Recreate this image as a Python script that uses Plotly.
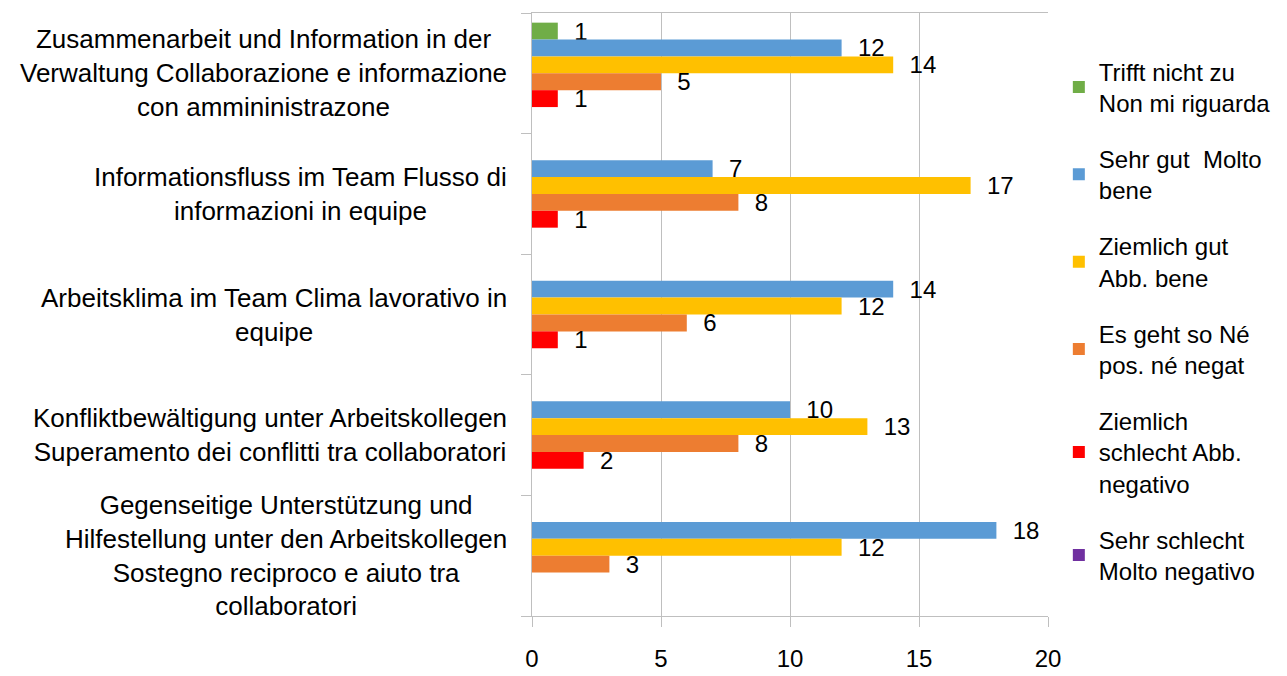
import plotly.graph_objects as go

categories = [
    "Zusammenarbeit und Information in der<br>Verwaltung Collaborazione e informazione<br>con ammininistrazone",
    "Informationsfluss im Team Flusso di<br>informazioni in equipe",
    "Arbeitsklima im Team Clima lavorativo in<br>equipe",
    "Konfliktbewältigung unter Arbeitskollegen<br>Superamento dei conflitti tra collaboratori",
    "Gegenseitige Unterstützung und<br>Hilfestellung unter den Arbeitskollegen<br>Sostegno reciproco e aiuto tra<br>collaboratori",
]

series_names = [
    "Trifft nicht zu<br>Non mi riguarda",
    "Sehr gut  Molto<br>bene",
    "Ziemlich gut<br>Abb. bene",
    "Es geht so Né<br>pos. né negat",
    "Ziemlich<br>schlecht Abb.<br>negativo",
    "Sehr schlecht<br>Molto negativo",
]

trifft_nicht_zu = [1, None, None, None, None]
sehr_gut = [12, 7, 14, 10, 18]
ziemlich_gut = [14, 17, 12, 13, 12]
es_geht_so = [5, 8, 6, 8, 3]
ziemlich_schlecht = [1, 1, 1, 2, None]
sehr_schlecht = [None, None, None, None, None]

series_values = [trifft_nicht_zu, sehr_gut, ziemlich_gut, es_geht_so, ziemlich_schlecht, sehr_schlecht]
colors = ["#70AD47", "#5B9BD5", "#FFC000", "#ED7D31", "#FF0000", "#7030A0"]

x_ticks = [0, 5, 10, 15, 20]

FONT = "Liberation Sans, Arial, sans-serif"

fig = go.Figure()
for i, (name, vals, col) in enumerate(zip(series_names, series_values, colors)):
    fig.add_trace(go.Bar(
        y=list(range(len(categories))),
        x=vals,
        name=name,
        orientation="h",
        marker=dict(color=col, line=dict(width=0)),
        text=[("  " + str(v)) if v else "" for v in vals],
        textposition="outside",
        textfont=dict(family=FONT, size=24, color="black"),
        constraintext="none",
        cliponaxis=False,
        legendgroup=f"g{i}",
    ))

annotations = []
for idx, cat in enumerate(categories):
    annotations.append(dict(
        x=0, xref="paper", xanchor="right", xshift=-23,
        y=idx, yref="y", yanchor="middle",
        text=cat, showarrow=False, align="center",
        font=dict(family=FONT, size=26, color="black"),
    ))

fig.update_layout(
    width=1279, height=668,
    margin=dict(l=524, r=239, t=4, b=44),
    paper_bgcolor="white", plot_bgcolor="white",
    barmode="group", bargap=0.16, bargroupgap=0,
    font=dict(family=FONT, size=24, color="black"),
    showlegend=True,
    legend=dict(
        x=1.021, xanchor="left", y=0.94, yanchor="top",
        font=dict(family=FONT, size=24, color="black"),
        tracegroupgap=22, itemwidth=30,
        bgcolor="rgba(0,0,0,0)",
    ),
    annotations=annotations,
)

fig.update_xaxes(
    range=[0, 20], tickvals=x_ticks, ticktext=[str(t) for t in x_ticks],
    showgrid=True, gridcolor="#BFBFBF", gridwidth=1,
    showline=True, linecolor="#BFBFBF", linewidth=1, mirror=True,
    ticks="outside", ticklen=10, tickcolor="#BFBFBF",
    ticklabelstandoff=11,
    tickfont=dict(family=FONT, size=24, color="black"),
    zeroline=False,
)
fig.update_yaxes(
    type="linear", range=[4.5, -0.5],
    tickvals=[-0.5, 0.5, 1.5, 2.5, 3.5, 4.5], showticklabels=False,
    ticks="outside", ticklen=10, tickcolor="#BFBFBF",
    showgrid=False, showline=True, linecolor="#BFBFBF", linewidth=1,
    zeroline=False,
)

fig.write_html("out.html")
